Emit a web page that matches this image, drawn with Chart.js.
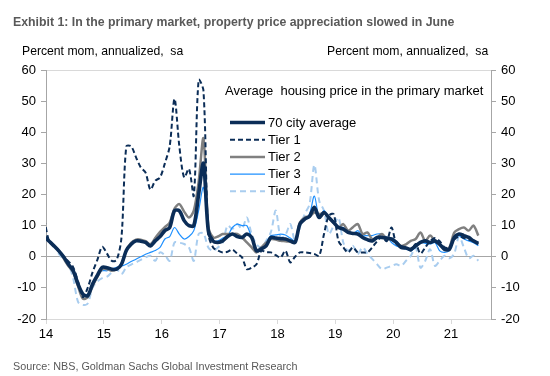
<!DOCTYPE html>
<html>
<head>
<meta charset="utf-8">
<script src="https://cdn.jsdelivr.net/npm/chart.js@4.4.0/dist/chart.umd.min.js"></script>
<style>
  html, body { margin: 0; padding: 0; background: #fff; }
  #wrap { position: relative; width: 550px; height: 376px; font-family: Arial, "Liberation Sans", sans-serif; }
  #wrap canvas { position: absolute; left: 0; top: 0; }
  .txt { position: absolute; white-space: pre; line-height: 1; }
  #title { left: 13px; top: 16px; font-weight: bold; font-size: 12.3px; color: #595959; }
  .unit { top: 45px; font-size: 12.2px; color: #000; }
  #unitL { left: 22px; }
  #unitR { left: 327px; }
  #source { left: 13px; top: 361px; font-size: 10.8px; color: #595959; }
</style>
</head>
<body>
<div id="wrap">
  <canvas id="chart" width="550" height="376"></canvas>
  <div class="txt" id="title">Exhibit 1: In the primary market, property price appreciation slowed in June</div>
  <div class="txt unit" id="unitL">Percent mom, annualized,  sa</div>
  <div class="txt unit" id="unitR">Percent mom, annualized,  sa</div>
  <div class="txt" id="source">Source: NBS, Goldman Sachs Global Investment Research</div>
</div>
<script>
// monthly series, Dec 2013 .. Jun 2021
const firstYear = 2014;
const firstOffset = -1;          // first value is Dec 2013
const yearTicks = ['14', '15', '16', '17', '18', '19', '20', '21'];
const legendTitle = 'Average  housing price in the primary market';
const seriesNames = ['70 city average', 'Tier 1', 'Tier 2', 'Tier 3', 'Tier 4'];

const avg70 = [6.5, 5, 3.5, 1.9, 0, -2.4, -4.5, -8.8, -12, -12.5,
  -8.8, -6, -3.4, -3.5, -4, -4, -2.4, 2, 4, 5.1,
  5, 4.6, 3.5, 5.1, 6.5, 8.4, 9.4, 14.8, 14.8, 11.6,
  10, 10, 20, 30, 8.4, 5, 4.6, 5.1, 6.5, 7.3,
  6.5, 6.2, 7.3, 6.2, 1.9, 2.5, 3.5, 6.2, 6, 5.8,
  5.7, 5.1, 4.6, 10.5, 12.1, 13, 15.9, 12.6, 14.2, 12.6,
  11, 9.4, 8.9, 7.8, 7.5, 7.3, 6.2, 5.5, 5.1, 6.2,
  6.2, 6, 5.7, 4.6, 3, 2.8, 2.4, 3.5, 4.6, 5.1,
  4.6, 5.1, 4, 2.4, 2.4, 6.2, 7.3, 6.8, 6.2, 5.1,
  4.3];

const tier1 = [12, 5, 3.5, 1.9, 0, -1.5, -3.4, -8, -13, -10,
  -5, -1, 3.2, 1, -1.3, -1, 6.2, 35.5, 35.5, 32,
  28.7, 27, 21.6, 24.4, 25.5, 30, 35.5, 50.7, 35.5, 25.5,
  28.2, 19.6, 56.8, 53.4, 7.3, 3, 2, 1.4, 1.6, 2.3,
  1, -0.2, -4, -3.5, -2.4, 1.9, 1.5, 1.4, 0.5, -0.2,
  1.9, -1.8, 0, 1.4, 1.4, 1.2, 0.9, 0.3, 7.3, 13.2,
  13.7, 5.1, 3, 1.4, 3, 1.4, 1.4, 1.4, 3, 5,
  6.5, 5, 9.4, 4.1, 3.5, 3, 1.9, 4.1, 1, 3,
  5, 6, 5, 3, 3, 5.5, 6.5, 6, 5.5, 5,
  4];

const tier2 = [6, 5, 3.5, 2, -0.5, -3, -5, -9.5, -13.5, -13,
  -9.5, -6.5, -4, -4, -4.5, -4, -2.5, 2, 4.5, 5.5,
  5.5, 5, 4, 6, 8, 9.5, 11, 15.5, 16.9, 14.5,
  12.6, 14.8, 24, 38, 10, 6.2, 6.5, 7.3, 7.3, 7.3,
  7.3, 6.2, 4.6, 3, 1.4, 3, 4.5, 5.7, 5.5, 5.1,
  5, 4.8, 4.6, 11, 12.6, 13, 14.2, 13.7, 14, 12.6,
  11, 9.4, 10.5, 8.4, 9.5, 10.5, 7.3, 7.8, 5.7, 6.2,
  7.3, 5.7, 5.5, 4.6, 3.5, 4, 5.1, 5.7, 7.8, 5.1,
  6.8, 5.1, 4, 2.4, 3, 7.8, 8.9, 9.4, 8.4, 10,
  6.8];

const tier3 = [5.5, 5, 3.5, 1.5, 0, -3, -5, -9, -12, -12,
  -9, -6, -4.5, -4.5, -4, -3.4, -3, -2.4, -1.5, -0.8,
  0, 0.8, 1.4, 2, 3, 5.7, 6.5, 9.4, 7.3, 5.7,
  6.5, 8.4, 14.8, 22.3, 9.4, 5, 5.1, 6, 6.8, 9.4,
  10.5, 10, 10, 6, 1.9, 3, 4.6, 6.8, 7, 7.3,
  7, 6, 5.1, 10.5, 12, 13.7, 19.5, 12.6, 14.8, 12.6,
  11, 9.4, 9.4, 8.5, 7.3, 8.4, 6.8, 6.8, 6.8, 7.3,
  7.3, 6.2, 4.6, 3.5, 3, 2.5, 1.9, 3, 4.6, 4.3,
  4.1, 4.6, 1.9, 1.4, 2, 6.2, 6.8, 5.7, 5.1, 4.5,
  3.5];

const tier4 = [5.5, 5, 3.5, 1, -1, -2.5, -7, -14.5, -15.5, -15,
  -10, -8, -6.9, -6.4, -5, -4, -5.6, -3.4, -2.5, -1.8,
  -1, -0.2, 0.3, -1.3, 1.4, 0.5, -1.3, 4.6, 4.5, 4.1,
  3, -1.3, 7.3, 7.5, 3, 1.9, 3, 4.6, 10, 9,
  10.5, 9, 12.6, 7.3, 4, 3, 5.1, 8, 14.8, 6.2,
  7, 10.5, 5.1, 9.4, 13.7, 16.9, 29.5, 18, 14.8, 7.3,
  10, 12.6, 4.6, 1.9, 3.5, 0.9, 3, 1, -0.7, -2.4,
  -4, -3.5, -3, -2.4, -2.9, -1.3, 0.3, 3, -3.5, -1.3,
  2.4, -2.9, -1.3, 0.3, -0.5, 1, 6.5, 3, -0.5, 0.3,
  -1.3];

const FONT = 'Arial, "Liberation Sans", sans-serif';

// monthly points sit a little past the start of the month on the date axis
function toPoints(values) {
  return values.map((v, i) => ({ x: firstYear + (i + firstOffset + 0.65) / 12, y: v }));
}

// legend drawn inside the plot, like the original
const insideLegend = {
  id: 'insideLegend',
  afterDraw(chart) {
    const ctx = chart.ctx;
    ctx.save();
    ctx.font = '13px ' + FONT;
    ctx.fillStyle = '#000';
    ctx.textBaseline = 'middle';
    ctx.textAlign = 'left';
    ctx.fillText(legendTitle, 225, 91);
    chart.data.datasets.forEach((ds, i) => {
      const y = 122.5 + i * 17.2;
      ctx.beginPath();
      ctx.strokeStyle = ds.borderColor;
      ctx.lineWidth = ds.borderWidth;
      ctx.setLineDash(ds.borderDash || []);
      ctx.moveTo(230, y);
      ctx.lineTo(265, y);
      ctx.stroke();
      ctx.setLineDash([]);
      ctx.fillStyle = '#000';
      ctx.fillText(ds.label, 268, y + 0.5);
    });
    ctx.restore();
  }
};

const ctx = document.getElementById('chart').getContext('2d');
new Chart(ctx, {
  type: 'line',
  data: {
    datasets: [
      { label: seriesNames[0], data: toPoints(avg70), borderColor: '#0b2d57', borderWidth: 3.6 },
      { label: seriesNames[1], data: toPoints(tier1), borderColor: '#0b2d57', borderWidth: 2, borderDash: [5, 3] },
      { label: seriesNames[2], data: toPoints(tier2), borderColor: '#808080', borderWidth: 2.5 },
      { label: seriesNames[3], data: toPoints(tier3), borderColor: '#1e90ff', borderWidth: 1.2 },
      { label: seriesNames[4], data: toPoints(tier4), borderColor: '#a9cdef', borderWidth: 2, borderDash: [6, 4] }
    ]
  },
  options: {
    responsive: false,
    animation: false,
    events: [],
    parsing: false,
    elements: {
      point: { radius: 0 },
      line: { tension: 0.3, fill: false, borderCapStyle: 'butt' }
    },
    layout: { padding: { top: 70, left: 0, right: 0, bottom: 0 } },
    plugins: {
      legend: { display: false },
      tooltip: { enabled: false },
      title: { display: false }
    },
    scales: {
      x: {
        type: 'linear',
        min: 2014,
        max: 2021.69,
        afterFit: s => { s.height = 57; },
        border: { color: '#d9d9d9', width: 1 },
        grid: { drawOnChartArea: false, color: '#d9d9d9', tickLength: 5 },
        ticks: {
          stepSize: 1,
          includeBounds: false,
          autoSkip: false,
          maxRotation: 0,
          padding: 3,
          color: '#000',
          font: { family: FONT, size: 13 },
          callback: v => yearTicks[Math.round(v) - firstYear]
        }
      },
      y: {
        position: 'left',
        min: -20,
        max: 60,
        afterFit: s => { s.width = 46; },
        border: { color: '#a6a6a6', width: 1 },
        grid: {
          tickLength: 5,
          tickColor: '#a6a6a6',
          color: c => c.tick.value === 0 ? '#a6a6a6' : (c.tick.value === 60 ? '#d9d9d9' : 'rgba(0,0,0,0)')
        },
        ticks: { stepSize: 10, padding: 5, color: '#000', font: { family: FONT, size: 13 } }
      },
      y2: {
        position: 'right',
        min: -20,
        max: 60,
        afterFit: s => { s.width = 59; },
        border: { color: '#a6a6a6', width: 1 },
        grid: { drawOnChartArea: false, tickLength: 5, color: '#a6a6a6' },
        ticks: { stepSize: 10, padding: 5, color: '#000', font: { family: FONT, size: 13 } }
      }
    }
  },
  plugins: [insideLegend]
});
</script>
</body>
</html>
